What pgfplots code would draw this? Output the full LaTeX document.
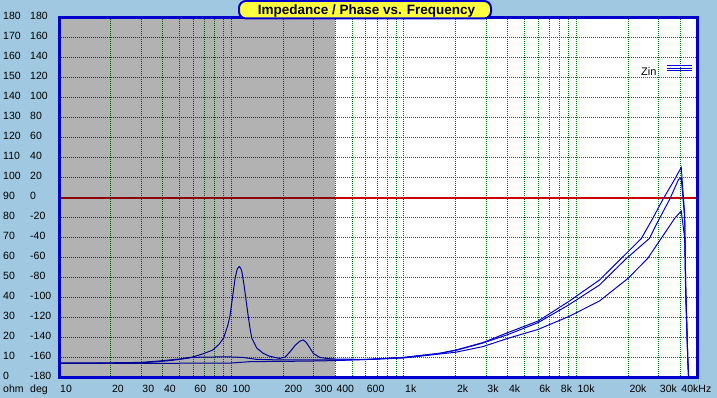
\documentclass[border=0pt]{standalone}
\usepackage{pgfplots}
\pgfplotsset{compat=1.18}
\usepackage{fontspec}
\setmainfont{Liberation Sans}
\definecolor{bgblue}{RGB}{160,200,224}
\definecolor{frameblue}{RGB}{0,0,204}
\definecolor{curveblue}{RGB}{0,0,215}
\definecolor{gridgreen}{RGB}{0,128,0}
\definecolor{titleyellow}{RGB}{255,255,64}
\definecolor{phasered}{RGB}{200,0,0}
\newcommand{\yl}[2]{\makebox[27pt][l]{#1}#2}
\begin{document}
\begin{tikzpicture}
\useasboundingbox (0,0) rectangle (717pt,398pt);
\fill[bgblue] (0,0) rectangle (717pt,398pt);
\begin{axis}[
  name=ax,
  at={(59pt,20pt)}, anchor=south west,
  scale only axis, width=638pt, height=360pt,
  xmode=log, log basis x=10,
  xmin=10, xmax=50000, ymin=0, ymax=180,
  axis background/.style={fill=white},
  xtick={10,20,30,40,50,60,70,80,90,100,200,300,400,500,600,700,800,900,1000,2000,3000,4000,5000,6000,7000,8000,9000,10000,20000,30000,40000},
  xticklabels={10,20,30,40,,60,,80,,100,200,300,400,,600,,,,1k,2k,3k,4k,,6k,,8k,,10k,20k,30k,40kHz},
  minor xtick={},
  minor x tick num=0,
  ytick={0,10,...,180},
  yticklabels={\yl{0}{-180},\yl{10}{-160},\yl{20}{-140},\yl{30}{-120},\yl{40}{-100},\yl{50}{-80},\yl{60}{-60},\yl{70}{-40},\yl{80}{-20},\yl{90}{0},\yl{100}{20},\yl{110}{40},\yl{120}{60},\yl{130}{80},\yl{140}{100},\yl{150}{120},\yl{160}{140},\yl{170}{160},\yl{180}{180}},
  grid=major,
  major grid style={gridgreen, line width=1pt, dash pattern=on 1pt off 1pt},
  major tick length=0pt, minor tick length=0pt,
  axis line style={draw=none},
  tick label style={font=\fontsize{10.5}{12}\selectfont},
  xticklabel style={anchor=base west, inner sep=0pt, xshift=1pt, yshift=-15pt},
  yticklabel style={anchor=west, inner sep=0pt, xshift=-56pt, yshift=2.5pt},
  clip=true,
]
\addplot[phasered, line width=1.5pt] coordinates {(10,90) (50000,90)};
% curve A (resonances)
\addplot[curveblue, line width=1pt] coordinates {
(10,7.3) (20,7.4) (30,7.6) (38,8.2) (45,8.8) (57,10.0) (68,12.0) (78,14.0) (85,17) (90,20)
(95,26) (98,31) (102,42) (105,50) (108,54.5) (110.8,55.7) (113,55) (115,53) (118,47) (121,40)
(125,31) (128,25) (131,20) (140,15) (153,12.3) (165,11) (178,10.3) (190,9.8) (205,10.5) (218,13)
(235,16.5) (250,18.5) (260,19) (270,18) (285,15) (298,12.3) (325,10.3) (360,9.7) (400,9.5) (600,9.3)
(1000,10.3) (1600,12.3) (2000,14) (2870,17.7) (4000,22.7) (6000,28.5) (9000,38.2) (13600,49)
(18200,59.8) (23800,69.8) (27700,79.8) (31700,89.3) (37100,99.3) (40500,105.3) (42400,82)
(43000,46) (43700,25) (44200,10) (44700,0)};
% curve B (small bump)
\addplot[curveblue, line width=1pt] coordinates {
(10,7.5) (20,7.6) (30,7.8) (38,8.5) (50,9.5) (57,10.3) (80,10.5) (100,10.5) (116,10.3) (140,9.3)
(200,9.0) (300,9.0) (400,9.0) (634,9.3) (1000,10.3) (1600,12.3) (2000,13.8) (2870,17.5) (4000,21.7)
(6000,27.7) (9000,36.5) (13600,46.5) (19500,59.8) (26500,69.8) (30300,79.8) (34700,89.3)
(39100,99.3) (40500,100) (42400,80) (43000,45) (43700,24) (44200,10) (44700,0)};
% curve C (flat, lower)
\addplot[curveblue, line width=1pt] coordinates {
(10,7.3) (30,7.3) (60,7.4) (100,7.5) (130,8.2) (200,8.3) (300,8.5) (400,8.7) (634,9.3)
(1000,10.0) (2000,12.9) (2870,15.7) (4000,19.8) (6000,24.3) (9000,30.7) (13600,38.5)
(19900,49.8) (25900,59.8) (31000,69.8) (37100,79.8) (40500,83.5) (42400,70) (43000,42)
(43700,22) (44200,9) (44700,0)};
% shaded low-frequency region
\fill[black, fill opacity=0.3] (axis cs:10,0) rectangle (axis cs:400,180);
\end{axis}
\draw[frameblue, line width=3pt] (ax.south west) rectangle (ax.north east);
\node[anchor=base west, inner sep=0pt, font=\fontsize{10.5}{12}\selectfont]
  at ([xshift=-56pt,yshift=-15pt]ax.south west) {\makebox[27pt][l]{ohm}deg};
% legend
\node[anchor=base west, inner sep=0pt, font=\fontsize{11}{12}\selectfont] at (641pt,322pt) {Zin};
\draw[curveblue, line width=1pt] (667pt,332.3pt) -- (692pt,332.3pt);
\draw[curveblue, line width=1pt] (667pt,329.7pt) -- (692pt,329.7pt);
\draw[curveblue, line width=1pt] (667pt,327pt) -- (692pt,327pt);
% title
\draw[frameblue, line width=2pt, fill=titleyellow, rounded corners=7pt] (239pt,379.5pt) rectangle (491pt,397pt);
\node[anchor=base, inner sep=0pt, font=\fontsize{13.5}{15}\selectfont\bfseries] at (366.5pt,383.5pt) {Impedance / Phase vs. Frequency};
\end{tikzpicture}
\end{document}
